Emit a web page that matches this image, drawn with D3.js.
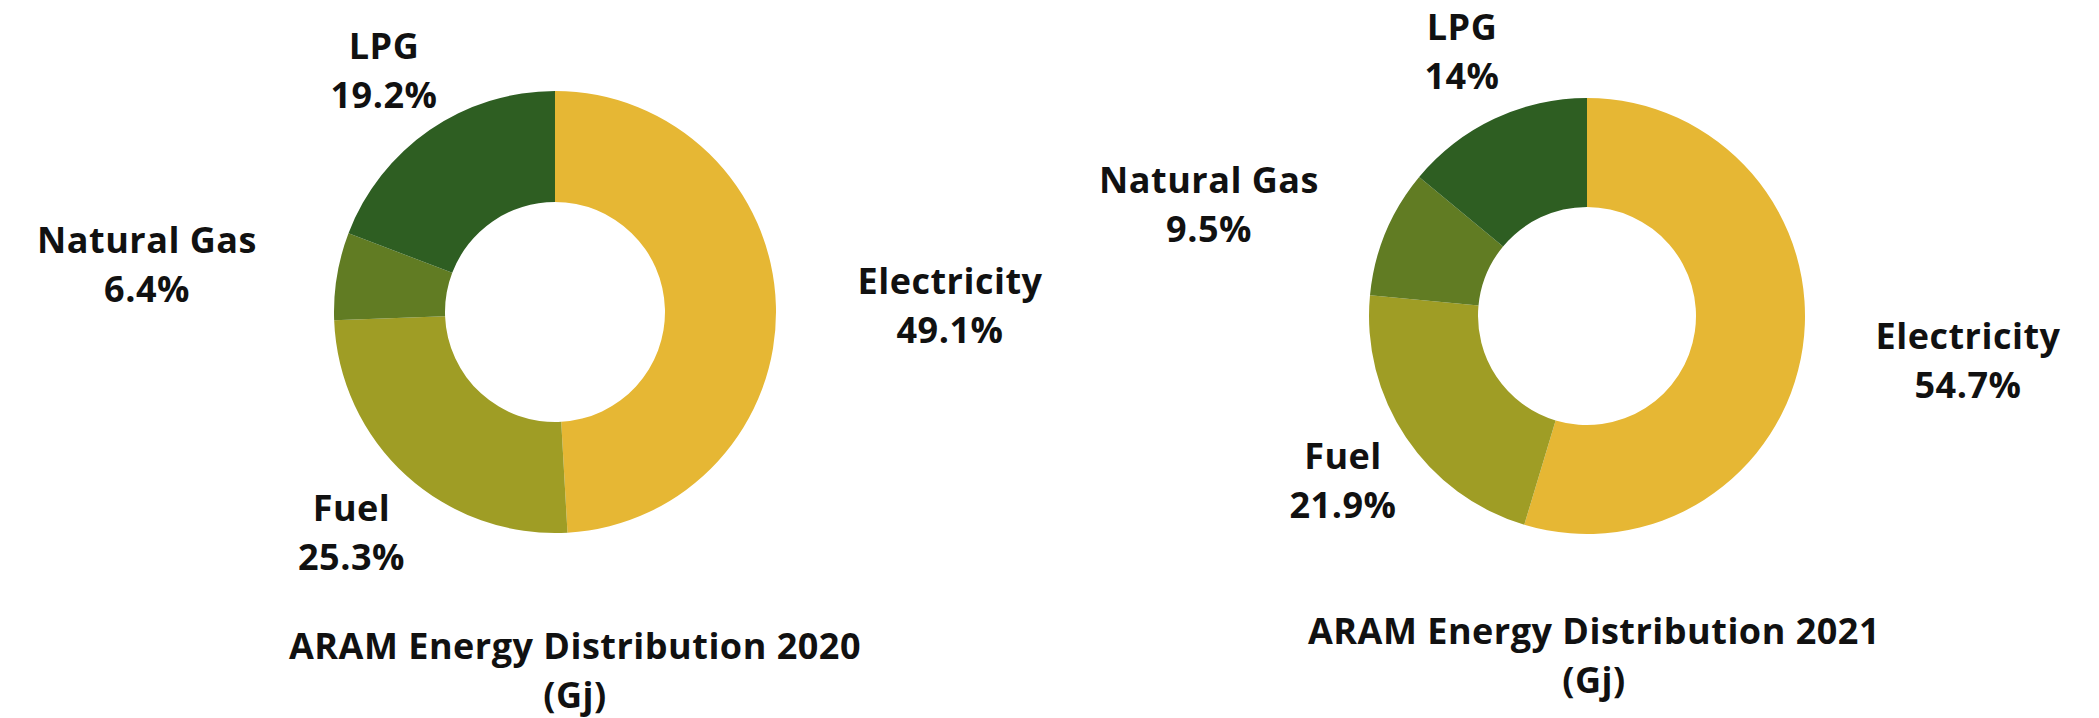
<!DOCTYPE html>
<html>
<head>
<meta charset="utf-8">
<script src="https://cdn.jsdelivr.net/npm/d3@7"></script>
<style>
  html, body { margin: 0; padding: 0; background: #fff; }
  svg { display: block; }
  text { font-family: "Open Sans", "Noto Sans", sans-serif; font-weight: 700; fill: #111; letter-spacing: 0.5px; }
</style>
</head>
<body>
<script>
// ---- data ----
const categories = ["Electricity", "Fuel", "Natural Gas", "LPG"];
const values2020 = [49.1, 25.3, 6.4, 19.2];
const values2021 = [54.7, 21.9, 9.5, 14];
const valueLabels2020 = ["49.1%", "25.3%", "6.4%", "19.2%"];
const valueLabels2021 = ["54.7%", "21.9%", "9.5%", "14%"];
const titles = ["ARAM Energy Distribution 2020", "ARAM Energy Distribution 2021"];
const subtitle = "(Gj)";

// ---- layout / style ----
const W = 2099, H = 718;
const colors = ["#E6B734", "#9F9D25", "#617C23", "#2E5E22"];
const charts = [
  { cx: 555, cy: 312, r: 221, ri: 110, values: values2020, vlabels: valueLabels2020, title: titles[0],
    labelOff: [[395, -30.5], [-203.5, 196], [-408, -72], [-171, -266]], titleOff: [20, 334] },
  { cx: 1587, cy: 316, r: 218, ri: 109, values: values2021, vlabels: valueLabels2021, title: titles[1],
    labelOff: [[381, 20.5], [-244, 140], [-378, -136], [-125, -288.5]], titleOff: [7, 315] }
];
const fontSize = 36, lineGap = 49, capHalf = 12.8;

const svg = d3.select("body").append("svg").attr("width", W).attr("height", H);
const color = d3.scaleOrdinal().domain(categories).range(colors);

charts.forEach(c => {
  const g = svg.append("g").attr("transform", `translate(${c.cx},${c.cy})`);
  const pie = d3.pie().sort(null).value(d => d.v).startAngle(0).endAngle(2 * Math.PI);
  const arcs = pie(categories.map((k, i) => ({ k, v: c.values[i], lab: c.vlabels[i], i })));
  const arc = d3.arc().innerRadius(c.ri).outerRadius(c.r);
  g.selectAll("path.slice").data(arcs).join("path")
    .attr("class", "slice")
    .attr("d", arc)
    .attr("fill", d => color(d.data.k));

  const lab = g.selectAll("g.lab").data(arcs).join("g").attr("class", "lab")
    .attr("transform", d => `translate(${c.labelOff[d.data.i][0]},${c.labelOff[d.data.i][1]})`);
  lab.append("text").attr("text-anchor", "middle").attr("font-size", fontSize)
    .attr("y", capHalf).text(d => d.data.k);
  lab.append("text").attr("text-anchor", "middle").attr("font-size", fontSize)
    .attr("y", capHalf + lineGap).text(d => d.data.lab);

  const t = g.append("g").attr("transform", `translate(${c.titleOff[0]},${c.titleOff[1]})`);
  t.append("text").attr("text-anchor", "middle").attr("font-size", fontSize)
    .attr("y", capHalf).text(c.title);
  t.append("text").attr("text-anchor", "middle").attr("font-size", fontSize)
    .attr("y", capHalf + lineGap).text(subtitle);
});
</script>
</body>
</html>
